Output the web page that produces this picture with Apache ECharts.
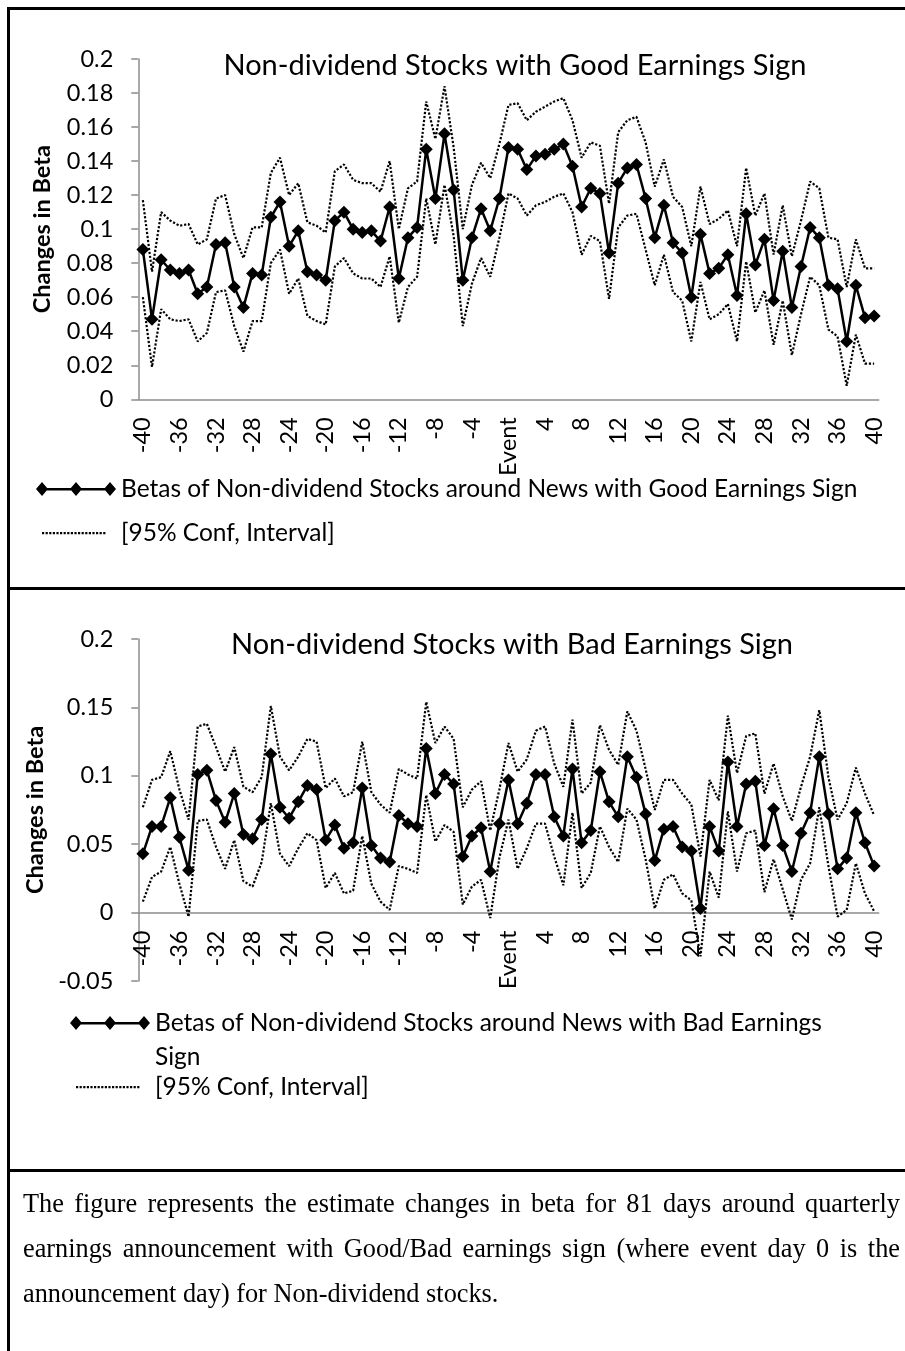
<!DOCTYPE html>
<html>
<head>
<meta charset="utf-8">
<script src="https://cdn.jsdelivr.net/npm/echarts@6.0.0/dist/echarts.min.js"></script>
<style>
  html, body { margin: 0; padding: 0; background: #fff; }
  #page { position: relative; width: 905px; height: 1351px; overflow: hidden; background: #fff; }
  #chart { position: absolute; left: 0; top: 0; width: 905px; height: 1351px; }
  .rule { position: absolute; background: #000; }
  #caption { position: absolute; left: 23px; top: 1181px; width: 877px;
    font-family: "Liberation Serif", "DejaVu Serif", serif; font-size: 26.3px; line-height: 45px; color: #000; }
  #caption .j { text-align: justify; text-align-last: justify; }
</style>
</head>
<body>
<div id="page">
  <div id="chart"></div>
  <div class="rule" style="left:7px;top:7px;width:898px;height:3px"></div>
  <div class="rule" style="left:7px;top:7px;width:3px;height:1344px"></div>
  <div class="rule" style="left:7px;top:587px;width:898px;height:3px"></div>
  <div class="rule" style="left:7px;top:1169px;width:898px;height:3px"></div>
  <div id="caption">
    <div class="j">The figure represents the estimate changes in beta for 81 days around quarterly</div>
    <div class="j">earnings announcement with Good/Bad earnings sign (where event day 0 is the</div>
    <div>announcement day) for Non-dividend stocks.</div>
  </div>
</div>
<script>
(function () {

    // event days (category labels)
    var days = ['-40', '-39', '-38', '-37', '-36', '-35', '-34', '-33', '-32', '-31',
        '-30', '-29', '-28', '-27', '-26', '-25', '-24', '-23', '-22', '-21',
        '-20', '-19', '-18', '-17', '-16', '-15', '-14', '-13', '-12', '-11',
        '-10', '-9', '-8', '-7', '-6', '-5', '-4', '-3', '-2', '-1',
        'Event', '1', '2', '3', '4', '5', '6', '7', '8', '9',
        '10', '11', '12', '13', '14', '15', '16', '17', '18', '19',
        '20', '21', '22', '23', '24', '25', '26', '27', '28', '29',
        '30', '31', '32', '33', '34', '35', '36', '37', '38', '39', '40'];

    // good earnings sign
    var goodBeta = [0.088, 0.047, 0.082, 0.076, 0.074, 0.076, 0.062, 0.066, 0.091, 0.092,
        0.066, 0.054, 0.074, 0.073, 0.107, 0.116, 0.090, 0.099, 0.075, 0.073,
        0.070, 0.105, 0.110, 0.100, 0.098, 0.099, 0.093, 0.113, 0.071, 0.095,
        0.101, 0.147, 0.118, 0.156, 0.123, 0.070, 0.095, 0.112, 0.099, 0.118,
        0.148, 0.147, 0.135, 0.143, 0.144, 0.147, 0.150, 0.137, 0.113, 0.124,
        0.121, 0.086, 0.127, 0.136, 0.138, 0.118, 0.095, 0.114, 0.092, 0.086,
        0.060, 0.097, 0.074, 0.077, 0.085, 0.061, 0.109, 0.079, 0.094, 0.058,
        0.087, 0.054, 0.078, 0.101, 0.095, 0.067, 0.065, 0.034, 0.067, 0.048, 0.049];
    var goodUpper = [0.117, 0.075, 0.110, 0.105, 0.102, 0.103, 0.091, 0.094, 0.118, 0.120,
        0.097, 0.083, 0.101, 0.101, 0.133, 0.142, 0.120, 0.127, 0.104, 0.102,
        0.098, 0.134, 0.138, 0.129, 0.127, 0.127, 0.122, 0.140, 0.100, 0.124,
        0.128, 0.175, 0.153, 0.184, 0.148, 0.100, 0.126, 0.139, 0.130, 0.150,
        0.173, 0.174, 0.164, 0.169, 0.172, 0.175, 0.177, 0.164, 0.142, 0.151,
        0.149, 0.115, 0.157, 0.164, 0.166, 0.151, 0.125, 0.141, 0.119, 0.113,
        0.090, 0.125, 0.103, 0.106, 0.111, 0.090, 0.136, 0.108, 0.121, 0.085,
        0.114, 0.084, 0.105, 0.128, 0.124, 0.095, 0.094, 0.066, 0.094, 0.077, 0.077];
    var goodLower = [0.060, 0.019, 0.053, 0.047, 0.046, 0.047, 0.034, 0.039, 0.063, 0.064,
        0.043, 0.028, 0.046, 0.046, 0.080, 0.088, 0.062, 0.071, 0.049, 0.046,
        0.044, 0.078, 0.083, 0.074, 0.071, 0.071, 0.066, 0.084, 0.045, 0.066,
        0.072, 0.118, 0.091, 0.126, 0.096, 0.043, 0.068, 0.083, 0.072, 0.095,
        0.121, 0.118, 0.108, 0.114, 0.116, 0.119, 0.121, 0.110, 0.085, 0.096,
        0.093, 0.059, 0.101, 0.108, 0.109, 0.088, 0.067, 0.085, 0.063, 0.058,
        0.034, 0.069, 0.047, 0.050, 0.056, 0.034, 0.081, 0.051, 0.064, 0.032,
        0.058, 0.026, 0.050, 0.072, 0.067, 0.041, 0.037, 0.008, 0.038, 0.021, 0.021];

    // bad earnings sign
    var badBeta = [0.043, 0.063, 0.063, 0.084, 0.055, 0.031, 0.101, 0.104, 0.082, 0.066,
        0.087, 0.057, 0.054, 0.068, 0.116, 0.077, 0.069, 0.081, 0.093, 0.090,
        0.053, 0.064, 0.047, 0.051, 0.091, 0.049, 0.040, 0.037, 0.071, 0.065,
        0.063, 0.120, 0.087, 0.101, 0.094, 0.041, 0.056, 0.062, 0.030, 0.065,
        0.097, 0.065, 0.080, 0.101, 0.101, 0.070, 0.056, 0.105, 0.051, 0.060,
        0.103, 0.081, 0.070, 0.114, 0.099, 0.072, 0.038, 0.061, 0.063, 0.048,
        0.045, 0.003, 0.063, 0.045, 0.110, 0.063, 0.094, 0.096, 0.049, 0.076,
        0.049, 0.030, 0.058, 0.073, 0.114, 0.072, 0.032, 0.040, 0.073, 0.051, 0.034];
    var badUpper = [0.077, 0.097, 0.099, 0.118, 0.090, 0.068, 0.136, 0.138, 0.121, 0.103,
        0.121, 0.092, 0.088, 0.099, 0.151, 0.114, 0.104, 0.114, 0.127, 0.125,
        0.091, 0.098, 0.085, 0.088, 0.125, 0.088, 0.079, 0.073, 0.105, 0.101,
        0.098, 0.154, 0.124, 0.136, 0.127, 0.077, 0.090, 0.096, 0.060, 0.090,
        0.124, 0.103, 0.112, 0.133, 0.136, 0.109, 0.092, 0.141, 0.087, 0.095,
        0.137, 0.119, 0.108, 0.147, 0.133, 0.105, 0.075, 0.097, 0.097, 0.087,
        0.079, 0.041, 0.097, 0.082, 0.144, 0.102, 0.129, 0.131, 0.087, 0.109,
        0.085, 0.067, 0.092, 0.114, 0.148, 0.099, 0.068, 0.080, 0.106, 0.087, 0.071];
    var badLower = [0.008, 0.026, 0.030, 0.048, 0.021, -0.003, 0.067, 0.068, 0.048, 0.032,
        0.053, 0.023, 0.019, 0.037, 0.080, 0.043, 0.034, 0.047, 0.058, 0.053,
        0.018, 0.029, 0.014, 0.016, 0.056, 0.021, 0.008, 0.002, 0.034, 0.032,
        0.029, 0.086, 0.052, 0.064, 0.059, 0.006, 0.019, 0.024, -0.004, 0.040,
        0.068, 0.032, 0.047, 0.065, 0.065, 0.041, 0.020, 0.073, 0.018, 0.029,
        0.063, 0.048, 0.037, 0.076, 0.068, 0.039, 0.003, 0.024, 0.028, 0.014,
        0.009, -0.032, 0.030, 0.011, 0.074, 0.030, 0.058, 0.060, 0.015, 0.039,
        0.017, -0.005, 0.024, 0.036, 0.077, 0.034, -0.003, 0.002, 0.036, 0.014, 0.001];

    var goodName = 'Betas of Non-dividend Stocks around News with Good Earnings Sign';
    var badName = 'Betas of Non-dividend Stocks around News with Bad Earnings Sign';
    var ciName = '[95% Conf, Interval]';

    var FONT = 'Lato';
    var AXIS_GRAY = '#8c8c8c';

    // legend icons: line with three diamonds, and a dotted line
    var diamondIcon = 'path://M6,6 L74,6 L74,8.4 L6,8.4 Z ' +
        'M0,7 L6,0 L12,7 L6,14 Z M34,7 L40,0 L46,7 L40,14 Z M68,7 L74,0 L80,7 L74,14 Z';
    var dotIcon = 'path://M0,0 h0.01 v0.01 h-0.01 Z M80,14 h-0.01 v-0.01 h0.01 Z';
    for (var x = 6; x <= 68; x += 3.6) {
        dotIcon += ' M' + x.toFixed(1) + ',6 h2.2 v2.2 h-2.2 Z';
    }

    function xAxis(gridIndex, offset) {
        return {
            type: 'category',
            gridIndex: gridIndex,
            data: days,
            boundaryGap: true,
            offset: offset,
            axisLine: { onZero: false, lineStyle: { color: AXIS_GRAY, width: 1.5 } },
            axisTick: { interval: 0, length: 6, lineStyle: { color: AXIS_GRAY, width: 1.5 } },
            axisLabel: { interval: 3, rotate: 90, margin: 18, color: '#000', fontSize: 23.5, fontFamily: FONT },
            splitLine: { show: false }
        };
    }

    function yAxis(gridIndex, min, max, interval) {
        return {
            type: 'value',
            gridIndex: gridIndex,
            min: min,
            max: max,
            interval: interval,
            name: 'Changes in Beta',
            nameLocation: 'middle',
            nameGap: 84,
            nameTextStyle: { color: '#000', fontSize: 23.5, fontWeight: 'bold', fontFamily: FONT },
            axisLine: { show: true, lineStyle: { color: AXIS_GRAY, width: 1.5 } },
            axisTick: { show: true, length: 7, lineStyle: { color: AXIS_GRAY, width: 1.5 } },
            axisLabel: { margin: 25, color: '#000', fontSize: 23.5, fontFamily: FONT },
            splitLine: { show: false }
        };
    }

    function betaSeries(name, data, idx) {
        return {
            name: name, type: 'line', data: data,
            xAxisIndex: idx, yAxisIndex: idx,
            symbol: 'diamond', symbolSize: 13, showAllSymbol: true,
            itemStyle: { color: '#000' },
            lineStyle: { color: '#000', width: 2.5 },
            z: 3
        };
    }

    function ciSeries(data, idx) {
        return {
            name: ciName, type: 'line', data: data,
            xAxisIndex: idx, yAxisIndex: idx,
            symbol: 'none', showSymbol: false,
            itemStyle: { color: '#000' },
            lineStyle: { color: '#000', width: 2.2, type: [2.2, 1.8] },
            z: 2
        };
    }

    function legend(name, icon, left, top, lineHeight, formatter) {
        var lg = {
            data: [name], icon: icon, left: left, top: top,
            itemWidth: 80, itemHeight: 14, itemGap: 0, padding: 0,
            selectedMode: false,
            itemStyle: { borderWidth: 0 },
            textStyle: { color: '#000', fontSize: 24.5, fontFamily: FONT, lineHeight: lineHeight }
        };
        if (formatter) lg.formatter = formatter;
        return lg;
    }

    var titleStyle = { color: '#000', fontSize: 29, fontWeight: 'normal', fontFamily: FONT, lineHeight: 34 };

    var option = {
        animation: false,
        backgroundColor: 'transparent',
        title: [
            { text: 'Non-dividend Stocks with Good Earnings Sign', left: 515, top: 49, textAlign: 'center', padding: 0, textStyle: titleStyle },
            { text: 'Non-dividend Stocks with Bad Earnings Sign', left: 512, top: 628, textAlign: 'center', padding: 0, textStyle: titleStyle }
        ],
        grid: [
            { left: 138.3, width: 740.4, top: 59, height: 340.3 },
            { left: 138.3, width: 740.4, top: 639, height: 342 }
        ],
        // bottom x axis sits on the zero line: 0.05 of a 0.25 range above the grid bottom
        xAxis: [xAxis(0, 0), xAxis(1, -342 * 0.05 / 0.25)],
        yAxis: [yAxis(0, 0, 0.2, 0.02), yAxis(1, -0.05, 0.2, 0.05)],
        legend: [
            legend(goodName, diamondIcon, 36, 474, 30),
            legend(ciName, dotIcon, 36, 518, 30),
            // blank first line keeps the icon level with the first text line
            legend(badName, diamondIcon, 70, 972, 34, function (n) {
                return ' \n' + n.replace(' Sign', '\nSign');
            }),
            legend(ciName, dotIcon, 70, 1072, 30)
        ],
        series: [
            ciSeries(goodUpper, 0),
            ciSeries(goodLower, 0),
            betaSeries(goodName, goodBeta, 0),
            ciSeries(badUpper, 1),
            ciSeries(badLower, 1),
            betaSeries(badName, badBeta, 1)
        ]
    };

    var myChart = echarts.init(document.getElementById('chart'));
    myChart.setOption(option);

})();
</script>
</body>
</html>
